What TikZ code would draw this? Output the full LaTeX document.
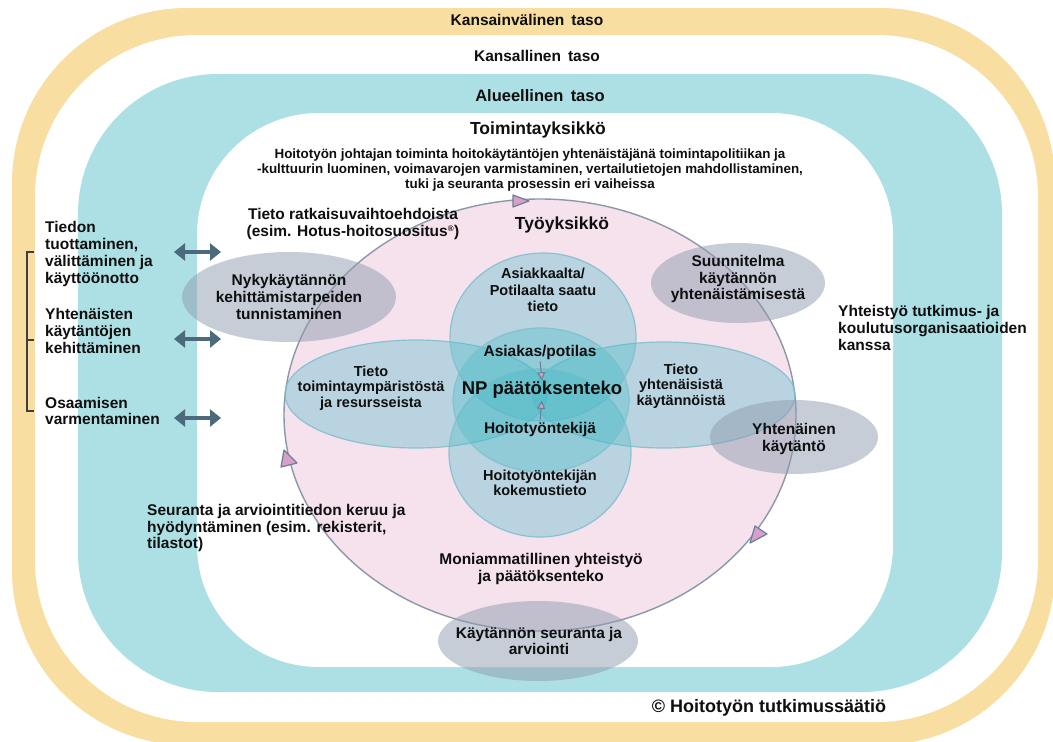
\documentclass[tikz,border=0pt]{standalone}
\usepackage{fontspec}
\setmainfont{Liberation Sans}
\usetikzlibrary{arrows.meta}
\definecolor{ylw}{RGB}{248,223,161}
\definecolor{cyn}{RGB}{173,224,228}
\definecolor{pnk}{RGB}{245,226,237}
\definecolor{pstroke}{RGB}{138,152,168}
\definecolor{bfill}{RGB}{70,186,200}
\definecolor{bstroke}{RGB}{130,192,205}
\definecolor{gfill}{RGB}{142,156,176}
\definecolor{darr}{RGB}{75,106,123}
\definecolor{tri}{RGB}{214,160,202}
\definecolor{tristroke}{RGB}{110,125,152}
\definecolor{txt}{RGB}{15,15,15}
\newcommand{\fsz}[2]{\fontsize{#1}{#2}\selectfont}
\begin{document}
\begin{tikzpicture}[x=1pt,y=-1pt,
  lbl/.style={font=\bfseries\fsz{15.5}{19}, text=txt, inner sep=0pt},
  ttl/.style={font=\bfseries\fsz{17.5}{20}, text=txt, inner sep=0pt},
  body/.style={font=\bfseries\fsz{15.5}{16.8}, text=txt, inner sep=0pt, align=center},
  bodyl/.style={body, align=left, anchor=west},
  small/.style={font=\bfseries\fsz{13.4}{15.2}, text=txt, inner sep=0pt, align=center},
  bluesh/.style={fill=bfill, fill opacity=0.34, draw=bstroke, draw opacity=0.9, line width=1.2pt},
  graysh/.style={fill=gfill, fill opacity=0.5},
  marker/.style={fill=tri, draw=tristroke, line width=1.2pt, line join=round},
  dbl/.style={draw=darr, line width=4.5pt, {Triangle[length=11pt,width=17pt]}-{Triangle[length=11pt,width=17pt]}},
  smallarr/.style={draw=tristroke, line width=1pt, -{Triangle[length=8pt,width=8pt,fill=tri]}}
]
\useasboundingbox (0,0) rectangle (1053,742);
% level bands
\fill[ylw, rounded corners=175pt] (12,8) rectangle (1055,745);
\fill[white, rounded corners=162pt] (35,35) rectangle (1038,722);
\fill[cyn, rounded corners=140pt] (78,74) rectangle (1002,692);
\fill[white, rounded corners=122pt] (197,113) rectangle (893,667);
% work unit
\filldraw[fill=pnk, draw=pstroke, line width=1.4pt] (540,415) ellipse [x radius=256, y radius=216];
% knowledge circles
\path[bluesh] (416,394) ellipse [x radius=131, y radius=54];
\path[bluesh] (664,395) ellipse [x radius=131, y radius=53];
\path[bluesh] (543,337) ellipse [x radius=93, y radius=84];
\path[bluesh] (540,453) ellipse [x radius=91, y radius=84];
\path[bluesh] (541,400) ellipse [x radius=88, y radius=72];
% process ellipses
\path[graysh] (289,297) ellipse [x radius=107, y radius=45];
\path[graysh] (738,283) ellipse [x radius=87, y radius=40];
\path[graysh] (794,437) ellipse [x radius=84, y radius=37];
\path[graysh] (538,641) ellipse [x radius=100, y radius=40];
% cycle markers
\filldraw[marker] (513,195) -- (529,201) -- (513,207) -- cycle;
\filldraw[marker] (284,450) -- (297,463) -- (281,467) -- cycle;
\filldraw[marker] (755,526) -- (767,534) -- (750,543) -- cycle;
% bracket
\draw[txt!80, line width=1.3pt] (34,252) -- (27,252) -- (27,411) -- (34,411);
\draw[txt!80, line width=1.3pt] (27,340) -- (34,340);
% double arrows
\coordinate (a1l) at (174,252); \coordinate (a1r) at (221,252);
\coordinate (a2l) at (174,339); \coordinate (a2r) at (221,339);
\coordinate (a3l) at (174,418); \coordinate (a3r) at (221,418);
\draw[dbl] (a1l) -- (a1r);
\draw[dbl] (a2l) -- (a2r);
\draw[dbl] (a3l) -- (a3r);
% texts
\node[lbl] (intl) at (527,20) {Kansainvälinen\hspace{0.45em}taso};
\node[lbl] (natl) at (537,56) {Kansallinen\hspace{0.45em}taso};
\node[lbl, font=\bfseries\fsz{16.5}{19}] (reg) at (540,96) {Alueellinen\hspace{0.45em}taso};
\node[ttl] (toim) at (538,130) {Toimintayksikkö};
\node[small] (lead) at (530,170) {Hoitotyön johtajan toiminta hoitokäytäntöjen yhtenäistäjänä toimintapolitiikan ja\\-kulttuurin luominen, voimavarojen varmistaminen, vertailutietojen mahdollistaminen,\\tuki ja seuranta prosessin eri vaiheissa};
\node[body] (ratk) at (353,224) {Tieto ratkaisuvaihtoehdoista\\(esim. Hotus-hoitosuositus\textsuperscript{\fsz{8}{8}®})};
\node[ttl] (tyo) at (562,225) {Työyksikkö};
\node[body, font=\bfseries\fsz{14.5}{16.8}] (asiakk) at (543,290) {Asiakkaalta/\\Potilaalta saatu\\tieto};
\node[body] (suun) at (738,279) {Suunnitelma\\käytännön\\yhtenäistämisestä};
\node[bodyl] (yhteis) at (838,328) {Yhteistyö tutkimus- ja\\koulutusorganisaatioiden\\kanssa};
\node[body] (nyky) at (289,297) {Nykykäytännön\\kehittämistarpeiden\\tunnistaminen};
\node[body, font=\bfseries\fsz{14.5}{15.5}] (toimy) at (371,388) {Tieto\\toimintaympäristöstä\\ja resursseista};
\node[body, font=\bfseries\fsz{14.5}{15.5}] (yhtk) at (681,386) {Tieto\\yhtenäisistä\\käytännöistä};
\node[body] (asiak) at (540,352) {Asiakas/potilas};
\node[ttl, font=\bfseries\fsz{18.5}{20}] (np) at (542,390) {NP päätöksenteko};
\node[body] (hoito) at (540,429) {Hoitotyöntekijä};
\node[body, font=\bfseries\fsz{14.5}{15.5}] (kokem) at (540,483) {Hoitotyöntekijän\\kokemustieto};
\node[body] (yhten) at (794,439) {Yhtenäinen\\käytäntö};
\node[bodyl] (seur) at (147,528) {Seuranta ja arviointitiedon keruu ja\\hyödyntäminen (esim. rekisterit,\\tilastot)};
\node[body] (moni) at (541,569) {Moniammatillinen yhteistyö\\ja päätöksenteko};
\node[body] (kayt) at (539,641) {Käytännön seuranta ja\\arviointi};
\node[bodyl] (tiedon) at (45,254) {Tiedon\\tuottaminen,\\välittäminen ja\\käyttöönotto};
\node[bodyl] (yhtkeh) at (45,331) {Yhtenäisten\\käytäntöjen\\kehittäminen};
\node[bodyl] (osaam) at (45,411) {Osaamisen\\varmentaminen};
\node[font=\bfseries\fsz{18}{20}, text=txt, inner sep=0pt] (copy) at (769,708) {© Hoitotyön tutkimussäätiö};
% decision arrows
\draw[smallarr, shorten <=2pt, shorten >=1pt] (asiak.south) -- (np.north);
\draw[smallarr, shorten <=2pt, shorten >=2pt] (hoito.north) -- (np.south);
\end{tikzpicture}
\end{document}
